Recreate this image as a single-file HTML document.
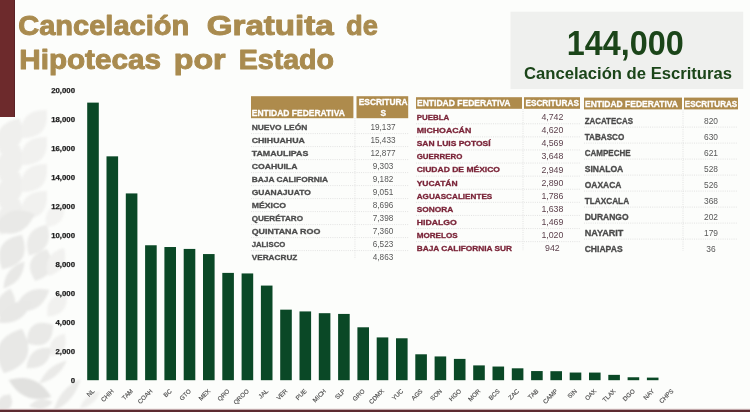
<!DOCTYPE html>
<html><head><meta charset="utf-8"><title>Cancelación Gratuita de Hipotecas por Estado</title>
<style>
html,body{margin:0;padding:0;}
body{width:750px;height:412px;overflow:hidden;background:#fcfdfb;}
svg{display:block;font-family:"Liberation Sans",sans-serif;font-weight:700;}
</style></head><body>
<svg width="750" height="412" viewBox="0 0 750 412">
<g style="filter:blur(0.9px)">
<path d="M0.6 153.7Q31.2 147.3 19.4 118.3Q-11.2 124.7 0.6 153.7Z" fill="#efefed"/>
<path d="M21.3 138.1Q50.3 138.7 46.7 109.9Q17.7 109.3 21.3 138.1Z" fill="#f1f1ef"/>
<path d="M0.6 180.7Q31.2 174.3 19.4 145.3Q-11.2 151.7 0.6 180.7Z" fill="#efefed"/>
<path d="M21.3 165.1Q50.3 165.7 46.7 136.9Q17.7 136.3 21.3 165.1Z" fill="#f1f1ef"/>
<path d="M0.6 207.7Q31.2 201.3 19.4 172.3Q-11.2 178.7 0.6 207.7Z" fill="#efefed"/>
<path d="M21.3 192.1Q50.3 192.7 46.7 163.9Q17.7 163.3 21.3 192.1Z" fill="#f1f1ef"/>
<path d="M0.6 234.7Q31.2 228.3 19.4 199.3Q-11.2 205.7 0.6 234.7Z" fill="#efefed"/>
<path d="M21.3 219.1Q50.3 219.7 46.7 190.9Q17.7 190.3 21.3 219.1Z" fill="#f1f1ef"/>
<path d="M-6.7 229.5Q21.5 242.7 34.7 214.5Q6.5 201.3 -6.7 229.5Z" fill="#e9e9e7"/>
<path d="M29.0 255.6Q55.3 250.0 47.0 224.4Q20.7 230.0 29.0 255.6Z" fill="#ebebe9"/>
<path d="M2.0 269.3Q32.8 264.0 22.0 234.7Q-8.8 240.0 2.0 269.3Z" fill="#e9e9e7"/>
<path d="M3.5 288.4Q23.5 282.4 24.5 261.6Q4.5 267.6 3.5 288.4Z" fill="#e8e8e6"/>
<path d="M35.2 281.0Q61.7 272.5 46.8 249.0Q20.3 257.5 35.2 281.0Z" fill="#eaeae8"/>
<path d="M14.7 310.0Q41.0 315.6 49.3 290.0Q23.0 284.4 14.7 310.0Z" fill="#e9e9e7"/>
<path d="M1.6 321.4Q23.4 309.7 10.4 288.6Q-11.4 300.3 1.6 321.4Z" fill="#e9e9e7"/>
<path d="M-2.0 322.6Q23.5 325.6 32.0 301.4Q6.5 298.4 -2.0 322.6Z" fill="#e8e8e6"/>
<path d="M26.9 343.2Q52.6 352.0 53.1 324.8Q27.4 316.0 26.9 343.2Z" fill="#e9e9e7"/>
<path d="M4.0 373.3Q40.8 362.2 22.0 328.7Q-14.8 339.8 4.0 373.3Z" fill="#e8e8e6"/>
<path d="M26.4 367.9Q48.9 370.6 51.6 348.1Q29.1 345.4 26.4 367.9Z" fill="#e9e9e7"/>
<path d="M8.7 379.9Q23.3 405.2 51.3 397.1Q36.7 371.8 8.7 379.9Z" fill="#e1e1df"/>
<path d="M39.2 383.6Q58.8 378.9 66.8 360.4Q47.2 365.1 39.2 383.6Z" fill="#eaeae8"/>
<path d="M53.5 411.1Q74.7 401.4 80.5 378.9Q59.3 388.6 53.5 411.1Z" fill="#eaeae8"/>
<path d="M-0.0 411.7Q17.1 410.0 10.0 394.3Q-7.1 396.0 -0.0 411.7Z" fill="#e8e8e6"/>
<path d="M29.2 406.1Q42.7 413.8 52.8 401.9Q39.3 394.2 29.2 406.1Z" fill="#e9e9e7"/>
<path d="M80.0 408.4Q95.1 406.1 100.0 391.6Q84.9 393.9 80.0 408.4Z" fill="#efefed"/>
<path d="M46.4 227.3Q68.1 224.2 63.6 202.7Q41.9 205.8 46.4 227.3Z" fill="#f3f3f1"/>
<path d="M48.0 275.9Q69.9 270.0 64.0 248.1Q42.1 254.0 48.0 275.9Z" fill="#f1f1ef"/>
<path d="M47.4 316.5Q69.3 315.3 66.6 293.5Q44.7 294.7 47.4 316.5Z" fill="#f1f1ef"/>
<path d="M51.5 356.3Q70.1 352.0 64.5 333.7Q45.9 338.0 51.5 356.3Z" fill="#f0f0ee"/>
</g>
<rect x="0" y="0" width="15" height="117" fill="#6d2a2c"/>
<rect x="14" y="0" width="1" height="117" fill="#5a2226"/>
<rect x="0" y="408.6" width="750" height="1.2" fill="#e9d9d9"/>
<rect x="0" y="409.7" width="750" height="2.3" fill="#5c2a30"/>
<g style="filter:blur(0.5px)">
<text x="18.22" y="34.70" font-size="28.4" fill="#a98b4f" textLength="170.97" lengthAdjust="spacingAndGlyphs" stroke="#a98b4f" stroke-width="1.0" stroke-linejoin="round">Cancelación</text>
<text x="206.72" y="34.70" font-size="28.4" fill="#a98b4f" textLength="127.07" lengthAdjust="spacingAndGlyphs" stroke="#a98b4f" stroke-width="1.0" stroke-linejoin="round">Gratuita</text>
<text x="346.12" y="34.70" font-size="28.4" fill="#a98b4f" textLength="31.87" lengthAdjust="spacingAndGlyphs" stroke="#a98b4f" stroke-width="1.0" stroke-linejoin="round">de</text>
<text x="19.22" y="69.40" font-size="28.4" fill="#a98b4f" textLength="141.77" lengthAdjust="spacingAndGlyphs" stroke="#a98b4f" stroke-width="1.0" stroke-linejoin="round">Hipotecas</text>
<text x="173.72" y="69.40" font-size="28.4" fill="#a98b4f" textLength="51.87" lengthAdjust="spacingAndGlyphs" stroke="#a98b4f" stroke-width="1.0" stroke-linejoin="round">por</text>
<text x="238.72" y="69.40" font-size="28.4" fill="#a98b4f" textLength="95.27" lengthAdjust="spacingAndGlyphs" stroke="#a98b4f" stroke-width="1.0" stroke-linejoin="round">Estado</text>
<rect x="510.50" y="11.70" width="232.70" height="77.30" fill="#eff0ee" />
<text x="625.30" y="55.30" font-size="34.8" fill="#1b4519" text-anchor="middle" textLength="117.00" lengthAdjust="spacingAndGlyphs">144,000</text>
<text x="628.00" y="79.00" font-size="15.6" fill="#1b4519" text-anchor="middle" textLength="208.00" lengthAdjust="spacingAndGlyphs">Cancelación de Escrituras</text>
<text x="75.00" y="382.90" font-size="7.8" fill="#1c1c1c" text-anchor="end" stroke="#1c1c1c" stroke-width="0.25" stroke-linejoin="round">0</text>
<text x="75.00" y="353.87" font-size="7.8" fill="#1c1c1c" text-anchor="end" stroke="#1c1c1c" stroke-width="0.25" stroke-linejoin="round">2,000</text>
<text x="75.00" y="324.84" font-size="7.8" fill="#1c1c1c" text-anchor="end" stroke="#1c1c1c" stroke-width="0.25" stroke-linejoin="round">4,000</text>
<text x="75.00" y="295.81" font-size="7.8" fill="#1c1c1c" text-anchor="end" stroke="#1c1c1c" stroke-width="0.25" stroke-linejoin="round">6,000</text>
<text x="75.00" y="266.78" font-size="7.8" fill="#1c1c1c" text-anchor="end" stroke="#1c1c1c" stroke-width="0.25" stroke-linejoin="round">8,000</text>
<text x="75.00" y="237.75" font-size="7.8" fill="#1c1c1c" text-anchor="end" stroke="#1c1c1c" stroke-width="0.25" stroke-linejoin="round">10,000</text>
<text x="75.00" y="208.72" font-size="7.8" fill="#1c1c1c" text-anchor="end" stroke="#1c1c1c" stroke-width="0.25" stroke-linejoin="round">12,000</text>
<text x="75.00" y="179.69" font-size="7.8" fill="#1c1c1c" text-anchor="end" stroke="#1c1c1c" stroke-width="0.25" stroke-linejoin="round">14,000</text>
<text x="75.00" y="150.66" font-size="7.8" fill="#1c1c1c" text-anchor="end" stroke="#1c1c1c" stroke-width="0.25" stroke-linejoin="round">16,000</text>
<text x="75.00" y="121.63" font-size="7.8" fill="#1c1c1c" text-anchor="end" stroke="#1c1c1c" stroke-width="0.25" stroke-linejoin="round">18,000</text>
<text x="75.00" y="92.60" font-size="7.8" fill="#1c1c1c" text-anchor="end" stroke="#1c1c1c" stroke-width="0.25" stroke-linejoin="round">20,000</text>
<rect x="87.20" y="102.62" width="11.60" height="277.58" fill="#0a4826" />
<text x="94.90" y="391.50" font-size="6.2" fill="#505050" font-weight="400" text-anchor="end" stroke="#505050" stroke-width="0.15" stroke-linejoin="round" transform="rotate(-45 94.90 391.5)">NL</text>
<rect x="106.50" y="156.34" width="11.60" height="223.86" fill="#0a4826" />
<text x="114.20" y="391.50" font-size="6.2" fill="#505050" font-weight="400" text-anchor="end" stroke="#505050" stroke-width="0.15" stroke-linejoin="round" transform="rotate(-45 114.20 391.5)">CHIH</text>
<rect x="125.80" y="193.42" width="11.60" height="186.78" fill="#0a4826" />
<text x="133.50" y="391.50" font-size="6.2" fill="#505050" font-weight="400" text-anchor="end" stroke="#505050" stroke-width="0.15" stroke-linejoin="round" transform="rotate(-45 133.50 391.5)">TAM</text>
<rect x="145.10" y="245.26" width="11.60" height="134.94" fill="#0a4826" />
<text x="152.80" y="391.50" font-size="6.2" fill="#505050" font-weight="400" text-anchor="end" stroke="#505050" stroke-width="0.15" stroke-linejoin="round" transform="rotate(-45 152.80 391.5)">COAH</text>
<rect x="164.40" y="247.02" width="11.60" height="133.18" fill="#0a4826" />
<text x="172.10" y="391.50" font-size="6.2" fill="#505050" font-weight="400" text-anchor="end" stroke="#505050" stroke-width="0.15" stroke-linejoin="round" transform="rotate(-45 172.10 391.5)">BC</text>
<rect x="183.70" y="248.92" width="11.60" height="131.28" fill="#0a4826" />
<text x="191.40" y="391.50" font-size="6.2" fill="#505050" font-weight="400" text-anchor="end" stroke="#505050" stroke-width="0.15" stroke-linejoin="round" transform="rotate(-45 191.40 391.5)">GTO</text>
<rect x="203.00" y="254.06" width="11.60" height="126.14" fill="#0a4826" />
<text x="210.70" y="391.50" font-size="6.2" fill="#505050" font-weight="400" text-anchor="end" stroke="#505050" stroke-width="0.15" stroke-linejoin="round" transform="rotate(-45 210.70 391.5)">MEX</text>
<rect x="222.30" y="272.89" width="11.60" height="107.31" fill="#0a4826" />
<text x="230.00" y="391.50" font-size="6.2" fill="#505050" font-weight="400" text-anchor="end" stroke="#505050" stroke-width="0.15" stroke-linejoin="round" transform="rotate(-45 230.00 391.5)">QRO</text>
<rect x="241.60" y="273.44" width="11.60" height="106.76" fill="#0a4826" />
<text x="249.30" y="391.50" font-size="6.2" fill="#505050" font-weight="400" text-anchor="end" stroke="#505050" stroke-width="0.15" stroke-linejoin="round" transform="rotate(-45 249.30 391.5)">QROO</text>
<rect x="260.90" y="285.58" width="11.60" height="94.62" fill="#0a4826" />
<text x="268.60" y="391.50" font-size="6.2" fill="#505050" font-weight="400" text-anchor="end" stroke="#505050" stroke-width="0.15" stroke-linejoin="round" transform="rotate(-45 268.60 391.5)">JAL</text>
<rect x="280.20" y="309.66" width="11.60" height="70.54" fill="#0a4826" />
<text x="287.90" y="391.50" font-size="6.2" fill="#505050" font-weight="400" text-anchor="end" stroke="#505050" stroke-width="0.15" stroke-linejoin="round" transform="rotate(-45 287.90 391.5)">VER</text>
<rect x="299.50" y="311.42" width="11.60" height="68.78" fill="#0a4826" />
<text x="307.20" y="391.50" font-size="6.2" fill="#505050" font-weight="400" text-anchor="end" stroke="#505050" stroke-width="0.15" stroke-linejoin="round" transform="rotate(-45 307.20 391.5)">PUE</text>
<rect x="318.80" y="313.19" width="11.60" height="67.01" fill="#0a4826" />
<text x="326.50" y="391.50" font-size="6.2" fill="#505050" font-weight="400" text-anchor="end" stroke="#505050" stroke-width="0.15" stroke-linejoin="round" transform="rotate(-45 326.50 391.5)">MICH</text>
<rect x="338.10" y="313.93" width="11.60" height="66.27" fill="#0a4826" />
<text x="345.80" y="391.50" font-size="6.2" fill="#505050" font-weight="400" text-anchor="end" stroke="#505050" stroke-width="0.15" stroke-linejoin="round" transform="rotate(-45 345.80 391.5)">SLP</text>
<rect x="357.40" y="327.29" width="11.60" height="52.91" fill="#0a4826" />
<text x="365.10" y="391.50" font-size="6.2" fill="#505050" font-weight="400" text-anchor="end" stroke="#505050" stroke-width="0.15" stroke-linejoin="round" transform="rotate(-45 365.10 391.5)">GRO</text>
<rect x="376.70" y="337.42" width="11.60" height="42.78" fill="#0a4826" />
<text x="384.40" y="391.50" font-size="6.2" fill="#505050" font-weight="400" text-anchor="end" stroke="#505050" stroke-width="0.15" stroke-linejoin="round" transform="rotate(-45 384.40 391.5)">CDMX</text>
<rect x="396.00" y="338.28" width="11.60" height="41.92" fill="#0a4826" />
<text x="403.70" y="391.50" font-size="6.2" fill="#505050" font-weight="400" text-anchor="end" stroke="#505050" stroke-width="0.15" stroke-linejoin="round" transform="rotate(-45 403.70 391.5)">YUC</text>
<rect x="415.30" y="354.29" width="11.60" height="25.91" fill="#0a4826" />
<text x="423.00" y="391.50" font-size="6.2" fill="#505050" font-weight="400" text-anchor="end" stroke="#505050" stroke-width="0.15" stroke-linejoin="round" transform="rotate(-45 423.00 391.5)">AGS</text>
<rect x="434.60" y="356.44" width="11.60" height="23.76" fill="#0a4826" />
<text x="442.30" y="391.50" font-size="6.2" fill="#505050" font-weight="400" text-anchor="end" stroke="#505050" stroke-width="0.15" stroke-linejoin="round" transform="rotate(-45 442.30 391.5)">SON</text>
<rect x="453.90" y="358.89" width="11.60" height="21.31" fill="#0a4826" />
<text x="461.60" y="391.50" font-size="6.2" fill="#505050" font-weight="400" text-anchor="end" stroke="#505050" stroke-width="0.15" stroke-linejoin="round" transform="rotate(-45 461.60 391.5)">HGO</text>
<rect x="473.20" y="365.40" width="11.60" height="14.80" fill="#0a4826" />
<text x="480.90" y="391.50" font-size="6.2" fill="#505050" font-weight="400" text-anchor="end" stroke="#505050" stroke-width="0.15" stroke-linejoin="round" transform="rotate(-45 480.90 391.5)">MOR</text>
<rect x="492.50" y="366.54" width="11.60" height="13.66" fill="#0a4826" />
<text x="500.20" y="391.50" font-size="6.2" fill="#505050" font-weight="400" text-anchor="end" stroke="#505050" stroke-width="0.15" stroke-linejoin="round" transform="rotate(-45 500.20 391.5)">BCS</text>
<rect x="511.80" y="368.31" width="11.60" height="11.89" fill="#0a4826" />
<text x="519.50" y="391.50" font-size="6.2" fill="#505050" font-weight="400" text-anchor="end" stroke="#505050" stroke-width="0.15" stroke-linejoin="round" transform="rotate(-45 519.50 391.5)">ZAC</text>
<rect x="531.10" y="371.06" width="11.60" height="9.14" fill="#0a4826" />
<text x="538.80" y="391.50" font-size="6.2" fill="#505050" font-weight="400" text-anchor="end" stroke="#505050" stroke-width="0.15" stroke-linejoin="round" transform="rotate(-45 538.80 391.5)">TAB</text>
<rect x="550.40" y="371.19" width="11.60" height="9.01" fill="#0a4826" />
<text x="558.10" y="391.50" font-size="6.2" fill="#505050" font-weight="400" text-anchor="end" stroke="#505050" stroke-width="0.15" stroke-linejoin="round" transform="rotate(-45 558.10 391.5)">CAMP</text>
<rect x="569.70" y="372.54" width="11.60" height="7.66" fill="#0a4826" />
<text x="577.40" y="391.50" font-size="6.2" fill="#505050" font-weight="400" text-anchor="end" stroke="#505050" stroke-width="0.15" stroke-linejoin="round" transform="rotate(-45 577.40 391.5)">SIN</text>
<rect x="589.00" y="372.57" width="11.60" height="7.63" fill="#0a4826" />
<text x="596.70" y="391.50" font-size="6.2" fill="#505050" font-weight="400" text-anchor="end" stroke="#505050" stroke-width="0.15" stroke-linejoin="round" transform="rotate(-45 596.70 391.5)">OAX</text>
<rect x="608.30" y="374.86" width="11.60" height="5.34" fill="#0a4826" />
<text x="616.00" y="391.50" font-size="6.2" fill="#505050" font-weight="400" text-anchor="end" stroke="#505050" stroke-width="0.15" stroke-linejoin="round" transform="rotate(-45 616.00 391.5)">TLAX</text>
<rect x="627.60" y="377.27" width="11.60" height="2.93" fill="#0a4826" />
<text x="635.30" y="391.50" font-size="6.2" fill="#505050" font-weight="400" text-anchor="end" stroke="#505050" stroke-width="0.15" stroke-linejoin="round" transform="rotate(-45 635.30 391.5)">DGO</text>
<rect x="646.90" y="377.60" width="11.60" height="2.60" fill="#0a4826" />
<text x="654.60" y="391.50" font-size="6.2" fill="#505050" font-weight="400" text-anchor="end" stroke="#505050" stroke-width="0.15" stroke-linejoin="round" transform="rotate(-45 654.60 391.5)">NAY</text>
<text x="673.90" y="391.50" font-size="6.2" fill="#505050" font-weight="400" text-anchor="end" stroke="#505050" stroke-width="0.15" stroke-linejoin="round" transform="rotate(-45 673.90 391.5)">CHPS</text>
<rect x="251.00" y="96.20" width="102.40" height="22.00" fill="#ae8b4c" />
<rect x="356.50" y="96.20" width="51.70" height="22.00" fill="#ae8b4c" />
<text x="251.70" y="129.90" font-size="8.0" fill="#4c4c4c" textLength="55.70" lengthAdjust="spacingAndGlyphs" stroke="#4c4c4c" stroke-width="0.3" stroke-linejoin="round">NUEVO LEÓN</text>
<text x="383.00" y="130.00" font-size="8.2" fill="#585858" font-weight="400" text-anchor="middle">19,137</text>
<line x1="251.00" y1="133.60" x2="408.20" y2="133.60" stroke="#dcdcdc" stroke-width="0.8" stroke-dasharray="1 1.2"/>
<text x="251.70" y="142.90" font-size="8.0" fill="#4c4c4c" textLength="53.20" lengthAdjust="spacingAndGlyphs" stroke="#4c4c4c" stroke-width="0.3" stroke-linejoin="round">CHIHUAHUA</text>
<text x="383.00" y="143.00" font-size="8.2" fill="#585858" font-weight="400" text-anchor="middle">15,433</text>
<line x1="251.00" y1="146.60" x2="408.20" y2="146.60" stroke="#dcdcdc" stroke-width="0.8" stroke-dasharray="1 1.2"/>
<text x="251.70" y="155.90" font-size="8.0" fill="#4c4c4c" textLength="56.70" lengthAdjust="spacingAndGlyphs" stroke="#4c4c4c" stroke-width="0.3" stroke-linejoin="round">TAMAULIPAS</text>
<text x="383.00" y="156.00" font-size="8.2" fill="#585858" font-weight="400" text-anchor="middle">12,877</text>
<line x1="251.00" y1="159.60" x2="408.20" y2="159.60" stroke="#dcdcdc" stroke-width="0.8" stroke-dasharray="1 1.2"/>
<text x="251.70" y="168.90" font-size="8.0" fill="#4c4c4c" textLength="45.70" lengthAdjust="spacingAndGlyphs" stroke="#4c4c4c" stroke-width="0.3" stroke-linejoin="round">COAHUILA</text>
<text x="383.00" y="169.00" font-size="8.2" fill="#585858" font-weight="400" text-anchor="middle">9,303</text>
<line x1="251.00" y1="172.60" x2="408.20" y2="172.60" stroke="#dcdcdc" stroke-width="0.8" stroke-dasharray="1 1.2"/>
<text x="251.70" y="181.90" font-size="8.0" fill="#4c4c4c" textLength="76.50" lengthAdjust="spacingAndGlyphs" stroke="#4c4c4c" stroke-width="0.3" stroke-linejoin="round">BAJA CALIFORNIA</text>
<text x="383.00" y="182.00" font-size="8.2" fill="#585858" font-weight="400" text-anchor="middle">9,182</text>
<line x1="251.00" y1="185.60" x2="408.20" y2="185.60" stroke="#dcdcdc" stroke-width="0.8" stroke-dasharray="1 1.2"/>
<text x="251.70" y="194.90" font-size="8.0" fill="#4c4c4c" textLength="59.10" lengthAdjust="spacingAndGlyphs" stroke="#4c4c4c" stroke-width="0.3" stroke-linejoin="round">GUANAJUATO</text>
<text x="383.00" y="195.00" font-size="8.2" fill="#585858" font-weight="400" text-anchor="middle">9,051</text>
<line x1="251.00" y1="198.60" x2="408.20" y2="198.60" stroke="#dcdcdc" stroke-width="0.8" stroke-dasharray="1 1.2"/>
<text x="251.70" y="207.90" font-size="8.0" fill="#4c4c4c" textLength="34.30" lengthAdjust="spacingAndGlyphs" stroke="#4c4c4c" stroke-width="0.3" stroke-linejoin="round">MÉXICO</text>
<text x="383.00" y="208.00" font-size="8.2" fill="#585858" font-weight="400" text-anchor="middle">8,696</text>
<line x1="251.00" y1="211.60" x2="408.20" y2="211.60" stroke="#dcdcdc" stroke-width="0.8" stroke-dasharray="1 1.2"/>
<text x="251.70" y="220.90" font-size="8.0" fill="#4c4c4c" textLength="51.30" lengthAdjust="spacingAndGlyphs" stroke="#4c4c4c" stroke-width="0.3" stroke-linejoin="round">QUERÉTARO</text>
<text x="383.00" y="221.00" font-size="8.2" fill="#585858" font-weight="400" text-anchor="middle">7,398</text>
<line x1="251.00" y1="224.60" x2="408.20" y2="224.60" stroke="#dcdcdc" stroke-width="0.8" stroke-dasharray="1 1.2"/>
<text x="251.70" y="233.90" font-size="8.0" fill="#4c4c4c" textLength="68.70" lengthAdjust="spacingAndGlyphs" stroke="#4c4c4c" stroke-width="0.3" stroke-linejoin="round">QUINTANA ROO</text>
<text x="383.00" y="234.00" font-size="8.2" fill="#585858" font-weight="400" text-anchor="middle">7,360</text>
<line x1="251.00" y1="237.60" x2="408.20" y2="237.60" stroke="#dcdcdc" stroke-width="0.8" stroke-dasharray="1 1.2"/>
<text x="251.70" y="246.90" font-size="8.0" fill="#4c4c4c" textLength="33.60" lengthAdjust="spacingAndGlyphs" stroke="#4c4c4c" stroke-width="0.3" stroke-linejoin="round">JALISCO</text>
<text x="383.00" y="247.00" font-size="8.2" fill="#585858" font-weight="400" text-anchor="middle">6,523</text>
<line x1="251.00" y1="250.60" x2="408.20" y2="250.60" stroke="#dcdcdc" stroke-width="0.8" stroke-dasharray="1 1.2"/>
<text x="251.70" y="259.90" font-size="8.0" fill="#4c4c4c" textLength="45.70" lengthAdjust="spacingAndGlyphs" stroke="#4c4c4c" stroke-width="0.3" stroke-linejoin="round">VERACRUZ</text>
<text x="383.00" y="260.00" font-size="8.2" fill="#585858" font-weight="400" text-anchor="middle">4,863</text>
<line x1="354.95" y1="118.20" x2="354.95" y2="259.10" stroke="#dcdcdc" stroke-width="0.8" stroke-dasharray="1 1.2"/>
<rect x="416.00" y="97.20" width="106.00" height="11.60" fill="#ae8b4c" />
<rect x="524.00" y="97.20" width="56.00" height="11.60" fill="#ae8b4c" />
<text x="416.70" y="120.00" font-size="8.0" fill="#7a2438" textLength="32.60" lengthAdjust="spacingAndGlyphs" stroke="#7a2438" stroke-width="0.3" stroke-linejoin="round">PUEBLA</text>
<text x="552.40" y="120.10" font-size="8.8" fill="#5b3f4b" font-weight="400" text-anchor="middle">4,742</text>
<line x1="416.00" y1="123.75" x2="580.00" y2="123.75" stroke="#dcdcdc" stroke-width="0.8" stroke-dasharray="1 1.2"/>
<text x="416.70" y="133.10" font-size="8.0" fill="#7a2438" textLength="54.60" lengthAdjust="spacingAndGlyphs" stroke="#7a2438" stroke-width="0.3" stroke-linejoin="round">MICHOACÁN</text>
<text x="552.40" y="133.20" font-size="8.8" fill="#5b3f4b" font-weight="400" text-anchor="middle">4,620</text>
<line x1="416.00" y1="136.85" x2="580.00" y2="136.85" stroke="#dcdcdc" stroke-width="0.8" stroke-dasharray="1 1.2"/>
<text x="416.70" y="146.20" font-size="8.0" fill="#7a2438" textLength="73.90" lengthAdjust="spacingAndGlyphs" stroke="#7a2438" stroke-width="0.3" stroke-linejoin="round">SAN LUIS POTOSÍ</text>
<text x="552.40" y="146.30" font-size="8.8" fill="#5b3f4b" font-weight="400" text-anchor="middle">4,569</text>
<line x1="416.00" y1="149.95" x2="580.00" y2="149.95" stroke="#dcdcdc" stroke-width="0.8" stroke-dasharray="1 1.2"/>
<text x="416.70" y="159.30" font-size="8.0" fill="#7a2438" textLength="45.70" lengthAdjust="spacingAndGlyphs" stroke="#7a2438" stroke-width="0.3" stroke-linejoin="round">GUERRERO</text>
<text x="552.40" y="159.40" font-size="8.8" fill="#5b3f4b" font-weight="400" text-anchor="middle">3,648</text>
<line x1="416.00" y1="163.05" x2="580.00" y2="163.05" stroke="#dcdcdc" stroke-width="0.8" stroke-dasharray="1 1.2"/>
<text x="416.70" y="172.40" font-size="8.0" fill="#7a2438" textLength="83.30" lengthAdjust="spacingAndGlyphs" stroke="#7a2438" stroke-width="0.3" stroke-linejoin="round">CIUDAD DE MÉXICO</text>
<text x="552.40" y="172.50" font-size="8.8" fill="#5b3f4b" font-weight="400" text-anchor="middle">2,949</text>
<line x1="416.00" y1="176.15" x2="580.00" y2="176.15" stroke="#dcdcdc" stroke-width="0.8" stroke-dasharray="1 1.2"/>
<text x="416.70" y="185.50" font-size="8.0" fill="#7a2438" textLength="40.90" lengthAdjust="spacingAndGlyphs" stroke="#7a2438" stroke-width="0.3" stroke-linejoin="round">YUCATÁN</text>
<text x="552.40" y="185.60" font-size="8.8" fill="#5b3f4b" font-weight="400" text-anchor="middle">2,890</text>
<line x1="416.00" y1="189.25" x2="580.00" y2="189.25" stroke="#dcdcdc" stroke-width="0.8" stroke-dasharray="1 1.2"/>
<text x="416.70" y="198.60" font-size="8.0" fill="#7a2438" textLength="75.60" lengthAdjust="spacingAndGlyphs" stroke="#7a2438" stroke-width="0.3" stroke-linejoin="round">AGUASCALIENTES</text>
<text x="552.40" y="198.70" font-size="8.8" fill="#5b3f4b" font-weight="400" text-anchor="middle">1,786</text>
<line x1="416.00" y1="202.35" x2="580.00" y2="202.35" stroke="#dcdcdc" stroke-width="0.8" stroke-dasharray="1 1.2"/>
<text x="416.70" y="211.70" font-size="8.0" fill="#7a2438" textLength="36.50" lengthAdjust="spacingAndGlyphs" stroke="#7a2438" stroke-width="0.3" stroke-linejoin="round">SONORA</text>
<text x="552.40" y="211.80" font-size="8.8" fill="#5b3f4b" font-weight="400" text-anchor="middle">1,638</text>
<line x1="416.00" y1="215.45" x2="580.00" y2="215.45" stroke="#dcdcdc" stroke-width="0.8" stroke-dasharray="1 1.2"/>
<text x="416.70" y="224.80" font-size="8.0" fill="#7a2438" textLength="40.10" lengthAdjust="spacingAndGlyphs" stroke="#7a2438" stroke-width="0.3" stroke-linejoin="round">HIDALGO</text>
<text x="552.40" y="224.90" font-size="8.8" fill="#5b3f4b" font-weight="400" text-anchor="middle">1,469</text>
<line x1="416.00" y1="228.55" x2="580.00" y2="228.55" stroke="#dcdcdc" stroke-width="0.8" stroke-dasharray="1 1.2"/>
<text x="416.70" y="237.90" font-size="8.0" fill="#7a2438" textLength="40.90" lengthAdjust="spacingAndGlyphs" stroke="#7a2438" stroke-width="0.3" stroke-linejoin="round">MORELOS</text>
<text x="552.40" y="238.00" font-size="8.8" fill="#5b3f4b" font-weight="400" text-anchor="middle">1,020</text>
<line x1="416.00" y1="241.65" x2="580.00" y2="241.65" stroke="#dcdcdc" stroke-width="0.8" stroke-dasharray="1 1.2"/>
<text x="416.70" y="251.00" font-size="8.0" fill="#7a2438" textLength="95.40" lengthAdjust="spacingAndGlyphs" stroke="#7a2438" stroke-width="0.3" stroke-linejoin="round">BAJA CALIFORNIA SUR</text>
<text x="552.40" y="251.10" font-size="8.8" fill="#5b3f4b" font-weight="400" text-anchor="middle">942</text>
<line x1="523.00" y1="108.80" x2="523.00" y2="250.20" stroke="#dcdcdc" stroke-width="0.8" stroke-dasharray="1 1.2"/>
<rect x="584.00" y="97.60" width="98.00" height="11.80" fill="#ae8b4c" />
<rect x="684.00" y="97.60" width="54.00" height="11.80" fill="#ae8b4c" />
<text x="584.70" y="123.60" font-size="8.7" fill="#4a4a4a" textLength="48.30" lengthAdjust="spacingAndGlyphs" stroke="#4a4a4a" stroke-width="0.3" stroke-linejoin="round">ZACATECAS</text>
<text x="711.00" y="123.70" font-size="8.4" fill="#585858" font-weight="400" text-anchor="middle">820</text>
<line x1="584.00" y1="127.10" x2="738.00" y2="127.10" stroke="#dcdcdc" stroke-width="0.8" stroke-dasharray="1 1.2"/>
<text x="584.70" y="139.60" font-size="8.7" fill="#4a4a4a" textLength="39.60" lengthAdjust="spacingAndGlyphs" stroke="#4a4a4a" stroke-width="0.3" stroke-linejoin="round">TABASCO</text>
<text x="711.00" y="139.70" font-size="8.4" fill="#585858" font-weight="400" text-anchor="middle">630</text>
<line x1="584.00" y1="143.10" x2="738.00" y2="143.10" stroke="#dcdcdc" stroke-width="0.8" stroke-dasharray="1 1.2"/>
<text x="584.70" y="155.60" font-size="8.7" fill="#4a4a4a" textLength="45.90" lengthAdjust="spacingAndGlyphs" stroke="#4a4a4a" stroke-width="0.3" stroke-linejoin="round">CAMPECHE</text>
<text x="711.00" y="155.70" font-size="8.4" fill="#585858" font-weight="400" text-anchor="middle">621</text>
<line x1="584.00" y1="159.10" x2="738.00" y2="159.10" stroke="#dcdcdc" stroke-width="0.8" stroke-dasharray="1 1.2"/>
<text x="584.70" y="171.60" font-size="8.7" fill="#4a4a4a" textLength="38.60" lengthAdjust="spacingAndGlyphs" stroke="#4a4a4a" stroke-width="0.3" stroke-linejoin="round">SINALOA</text>
<text x="711.00" y="171.70" font-size="8.4" fill="#585858" font-weight="400" text-anchor="middle">528</text>
<line x1="584.00" y1="175.10" x2="738.00" y2="175.10" stroke="#dcdcdc" stroke-width="0.8" stroke-dasharray="1 1.2"/>
<text x="584.70" y="187.60" font-size="8.7" fill="#4a4a4a" textLength="36.70" lengthAdjust="spacingAndGlyphs" stroke="#4a4a4a" stroke-width="0.3" stroke-linejoin="round">OAXACA</text>
<text x="711.00" y="187.70" font-size="8.4" fill="#585858" font-weight="400" text-anchor="middle">526</text>
<line x1="584.00" y1="191.10" x2="738.00" y2="191.10" stroke="#dcdcdc" stroke-width="0.8" stroke-dasharray="1 1.2"/>
<text x="584.70" y="203.60" font-size="8.7" fill="#4a4a4a" textLength="44.40" lengthAdjust="spacingAndGlyphs" stroke="#4a4a4a" stroke-width="0.3" stroke-linejoin="round">TLAXCALA</text>
<text x="711.00" y="203.70" font-size="8.4" fill="#585858" font-weight="400" text-anchor="middle">368</text>
<line x1="584.00" y1="207.10" x2="738.00" y2="207.10" stroke="#dcdcdc" stroke-width="0.8" stroke-dasharray="1 1.2"/>
<text x="584.70" y="219.60" font-size="8.7" fill="#4a4a4a" textLength="43.90" lengthAdjust="spacingAndGlyphs" stroke="#4a4a4a" stroke-width="0.3" stroke-linejoin="round">DURANGO</text>
<text x="711.00" y="219.70" font-size="8.4" fill="#585858" font-weight="400" text-anchor="middle">202</text>
<line x1="584.00" y1="223.10" x2="738.00" y2="223.10" stroke="#dcdcdc" stroke-width="0.8" stroke-dasharray="1 1.2"/>
<text x="584.70" y="235.60" font-size="8.7" fill="#4a4a4a" textLength="38.60" lengthAdjust="spacingAndGlyphs" stroke="#4a4a4a" stroke-width="0.3" stroke-linejoin="round">NAYARIT</text>
<text x="711.00" y="235.70" font-size="8.4" fill="#585858" font-weight="400" text-anchor="middle">179</text>
<line x1="584.00" y1="239.10" x2="738.00" y2="239.10" stroke="#dcdcdc" stroke-width="0.8" stroke-dasharray="1 1.2"/>
<text x="584.70" y="251.60" font-size="8.7" fill="#4a4a4a" textLength="37.90" lengthAdjust="spacingAndGlyphs" stroke="#4a4a4a" stroke-width="0.3" stroke-linejoin="round">CHIAPAS</text>
<text x="711.00" y="251.70" font-size="8.4" fill="#585858" font-weight="400" text-anchor="middle">36</text>
<line x1="683.00" y1="109.40" x2="683.00" y2="250.80" stroke="#dcdcdc" stroke-width="0.8" stroke-dasharray="1 1.2"/>
<text x="251.80" y="115.80" font-size="8.4" fill="#fff" textLength="93.00" lengthAdjust="spacingAndGlyphs" stroke="#fff" stroke-width="0.3" stroke-linejoin="round">ENTIDAD FEDERATIVA</text>
<text x="383.20" y="105.00" font-size="8.4" fill="#fff" text-anchor="middle" textLength="49.00" lengthAdjust="spacingAndGlyphs" stroke="#fff" stroke-width="0.3" stroke-linejoin="round">ESCRITURA</text>
<text x="383.20" y="115.80" font-size="8.4" fill="#fff" text-anchor="middle" stroke="#fff" stroke-width="0.3" stroke-linejoin="round">S</text>
<text x="417.00" y="106.30" font-size="8.4" fill="#fff" textLength="93.50" lengthAdjust="spacingAndGlyphs" stroke="#fff" stroke-width="0.3" stroke-linejoin="round">ENTIDAD FEDERATIVA</text>
<text x="552.20" y="106.30" font-size="8.4" fill="#fff" text-anchor="middle" textLength="53.50" lengthAdjust="spacingAndGlyphs" stroke="#fff" stroke-width="0.3" stroke-linejoin="round">ESCRITURAS</text>
<text x="585.00" y="106.70" font-size="8.4" fill="#fff" textLength="93.00" lengthAdjust="spacingAndGlyphs" stroke="#fff" stroke-width="0.3" stroke-linejoin="round">ENTIDAD FEDERATIVA</text>
<text x="711.00" y="106.70" font-size="8.4" fill="#fff" text-anchor="middle" textLength="52.50" lengthAdjust="spacingAndGlyphs" stroke="#fff" stroke-width="0.3" stroke-linejoin="round">ESCRITURAS</text>
</g>
</svg>
</body></html>
